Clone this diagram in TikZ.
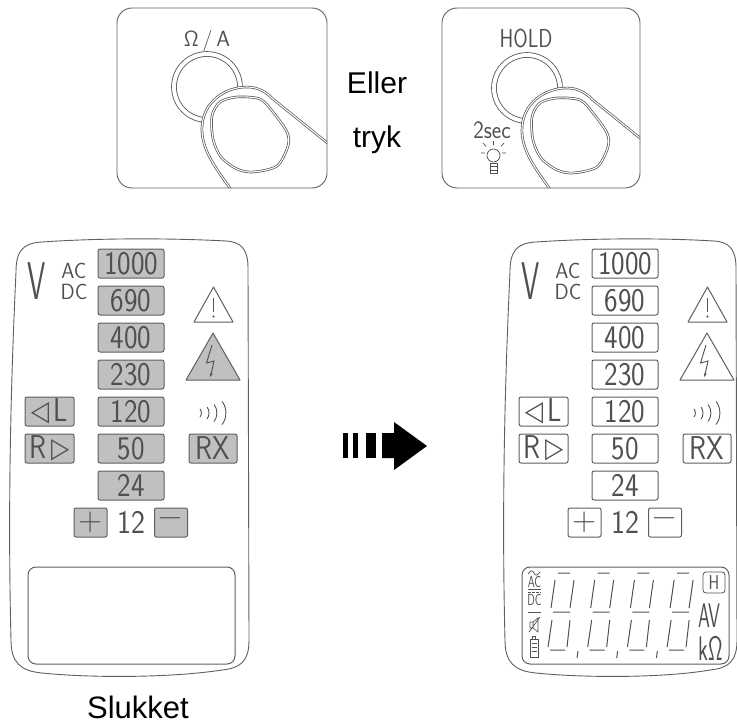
\documentclass[tikz,border=0pt]{standalone}
\usepackage{fontspec}
\setmainfont{Liberation Sans}
\newfontfamily\shapefont{DejaVu Sans}
\usepackage{graphicx}
\usepackage{xcolor}
\usepackage{tikz}
\usetikzlibrary{arrows.meta}

\definecolor{ink}{RGB}{80,80,80}
\definecolor{rim}{RGB}{95,95,95}
\definecolor{keygray}{RGB}{192,192,192}
\newcommand{\sq}[2]{\scalebox{#1}[1]{#2}}

\tikzset{
  rangekey/.style={draw=rim, line width=1pt, rounded corners=2, inner sep=0,
    minimum width=66, minimum height=29, text=ink, font=\fontsize{33}{33}\sffamily},
  lbl/.style={inner sep=0, text=ink},
  ring/.style={draw=ink, line width=0.8pt, double=white, double distance=4pt},
  finger/.style={fill=white, draw=ink, line width=0.7pt, double=white, double distance=1.1pt},
  seg/.style={draw=ink, line width=1pt},
}

\begin{document}
\begin{tikzpicture}[x=1pt,y=-1pt]
  \useasboundingbox (0,0) rectangle (737,725);

  % the two button presses
  \foreach \cx/\cy/\bx/\bw in {207/87/117/210, 527/88/442/198} {
    \begin{scope}
      \clip[rounded corners=15] (\bx,8) rectangle (\bx+\bw,188);
      \draw[ring] (\cx,\cy) circle (33);
      \begin{scope}[shift={(\cx,\cy)}]
        \filldraw[finger] (25,104) .. controls (8,80) and (-6,62) .. (-5,40)
          .. controls (-4,15) and (18,0) .. (40,0) .. controls (52,0) and (60,6) .. (66,12)
          -- (160,88) -- (160,110) -- cycle;
        \draw[finger] plot[smooth cycle] coordinates {(5,29) (6,52) (14,70) (30,82) (46,85)
          (70,79) (81,59) (80,45) (66,25) (53,12) (30,10) (13,15)};
      \end{scope}
    \end{scope}
    \draw[rim, line width=0.9pt, rounded corners=15] (\bx,8) rectangle (\bx+\bw,188);
  }
  \node[lbl, font=\fontsize{22}{22}\sffamily] (ohm) at (207,41) {Ω\,/\,A};
  \node[lbl, font=\fontsize{26}{26}\sffamily] (hold) at (526,38) {\sq{0.8}{HOLD}};
  \node[lbl, font=\fontsize{25}{25}\sffamily] (twosec) at (492,130) {\sq{0.9}{2sec}};
  % bulb
  \draw[ink, line width=0.7pt] (493.5,155.5) circle (6.5);
  \draw[ink, line width=0.7pt] (490,163) rectangle (497,173) (490,166.5) -- (497,166.5) (490,170) -- (497,170);
  \draw[ink, line width=0.7pt] (493.5,141) -- (493.5,145) (483,143) -- (486,146.5) (504,143) -- (501,146.5)
    (481,153) -- (485,153) (506,153) -- (502,153);

  \node[font=\fontsize{30}{30}\selectfont, anchor=base] (eller) at (377,93) {Eller};
  \node[font=\fontsize{30}{30}\selectfont, anchor=base] (tryk) at (377,147) {tryk};

  % both testers, off and on
  \foreach \dx/\kf/\re/\side in {0/keygray/248/a, 494/white/242/b} {
    \begin{scope}[shift={(\dx,0)}]
      % housing
      \draw[rim, line width=0.9pt] (16,272) .. controls (16,252) and (22,243) .. (42,242)
        .. controls (100,238) and (170,238) .. (\re-22,241) .. controls (\re-6,242) and (\re,250) .. (\re,268)
        -- (\re+1,640) .. controls (\re+1,660) and (\re-6,668) .. (\re-26,670)
        .. controls (170,678) and (90,678) .. (42,673) .. controls (20,671) and (11,662) .. (11,640)
        .. controls (8,520) and (10,400) .. cycle;
      % voltage steps
      \foreach \v [count=\k from 0] in {1000,690,400,230,120,50,24}
        \node[rangekey, fill=\kf] (\side-\v) at (131,263.5+37*\k) {\sq{0.87}{\v}};
      \node[rangekey, fill=\kf, minimum width=49] (\side-left) at (49.5,411.5)
        {\sq{0.85}{\raisebox{1pt}{\shapefont\fontsize{28}{28}\selectfont ◁}\,L}};
      \node[rangekey, fill=\kf, minimum width=49] (\side-right) at (49.5,448.5)
        {\sq{0.85}{R\,\raisebox{1pt}{\shapefont\fontsize{28}{28}\selectfont ▷}}};
      \node[rangekey, fill=\kf, minimum width=48] (\side-rx) at (213,448.5) {\sq{0.85}{RX}};
      \node[rangekey, fill=\kf, minimum width=33] (\side-plus) at (90.5,522.5) {+};
      \node[rangekey, fill=\kf, minimum width=33] (\side-minus) at (171,522.5) {−};
      \node[lbl, font=\fontsize{33}{33}\sffamily] (\side-12) at (131,522.5) {\sq{0.9}{12}};
      % V AC/DC
      \node[lbl, font=\fontsize{53}{53}\sffamily] (\side-V) at (37,281.5) {\sq{0.55}{V}};
      \node[lbl, font=\fontsize{22}{22}\sffamily] (\side-ac) at (74,271) {\sq{0.95}{AC}};
      \node[lbl, font=\fontsize{22}{22}\sffamily] (\side-dc) at (74,292) {\sq{0.95}{DC}};
      % warnings
      \draw[rim, line width=1pt, line join=round, fill=white] (213.5,287) -- (233,322) -- (194,322) -- cycle;
      \draw[ink, line width=1pt] (213.5,298) -- (213.5,312);
      \fill[ink] (213.5,316.5) circle (1.2);
      \draw[rim, line width=1pt, line join=round, fill=\kf] (213,333) -- (240,380) -- (186,380) -- cycle;
      \draw[ink, line width=0.9pt, -{Stealth[length=4pt,width=3pt]}] (212,345) -- (206.5,363) -- (214,361) -- (210.5,377);
      % buzzer
      \foreach \x/\h in {200/4,207/6,214/8.5,222/11.5}
        \draw[ink, line width=0.9pt] (\x,413-\h) .. controls (\x+0.45*\h,413-0.5*\h) and (\x+0.45*\h,413+0.5*\h) .. (\x,413+\h);
      % display window
      \draw[rim, line width=1pt, rounded corners=8] (28,567) rectangle (235,664);
    \end{scope}
  }

  % lit display
  \begin{scope}[shift={(494,0)}]
    \draw[ink, line width=0.7pt] (34,574) .. controls (37,570) and (39,570) .. (40,573) .. controls (41,576) and (43,576) .. (46,572);
    \node[lbl, font=\fontsize{16}{16}\sffamily] (lcd-ac) at (40.5,581.5) {\sq{0.7}{AC}};
    \draw[ink, line width=0.7pt] (34,589) -- (47,589);
    \draw[ink, line width=0.7pt, dash pattern=on 2.5pt off 1.5pt] (34,592) -- (47,592);
    \node[lbl, font=\fontsize{16}{16}\sffamily] (lcd-dc) at (40.5,599.5) {\sq{0.7}{DC}};
    \draw[ink, line width=0.7pt] (34,612) -- (47,612);
    % muted speaker
    \draw[ink, line width=0.7pt] (36,622) rectangle (39,628) (39,622) -- (44,618) -- (44,632) -- (39,628) (35,632) -- (46,617);
    % battery
    \draw[ink, line width=0.7pt] (36,639) rectangle (44,657) (38.5,636) rectangle (41.5,639);
    \foreach \y in {643,647,651} \draw[ink, line width=0.7pt] (37.5,\y) -- (42.5,\y);
    % digits
    \foreach \d in {0,...,3} {
      \begin{scope}[shift={(57+39.7*\d,0)}]
        \draw[seg] (7,573) -- (19,573) (4,580) -- (0,608) (23,580) -- (19,608) (2,612) -- (19,612)
          (1,620) -- (-3,647) (19,620) -- (16,647) (-1,650) -- (14,650);
      \end{scope}
    }
    \foreach \d in {0,1,2} \draw[seg] (84+39.7*\d,651) -- (83+39.7*\d,658);
    \node[draw=ink, line width=0.8pt, rounded corners=3, minimum width=22, minimum height=21, inner sep=0,
      text=ink, font=\fontsize{20}{20}\sffamily] (lcd-h) at (220,582.5) {\sq{0.8}{H}};
    \node[lbl, font=\fontsize{34}{34}\sffamily] (lcd-av) at (215.5,616) {\sq{0.56}{AV}};
    \node[lbl, font=\fontsize{34}{34}\sffamily, anchor=base] (lcd-ko) at (217,660) {\sq{0.63}{kΩ}};
  \end{scope}

  % arrow
  \foreach \a/\b in {343/348, 353/358, 366/376} \fill (\a,433) rectangle (\b,458);
  \fill (382,433) -- (394,433) -- (394,422) -- (427,446) -- (394,470) -- (394,458) -- (382,458) -- cycle;

  \node[font=\fontsize{31}{31}\selectfont, anchor=base] (slukket) at (138,718) {Slukket};
\end{tikzpicture}
\end{document}
